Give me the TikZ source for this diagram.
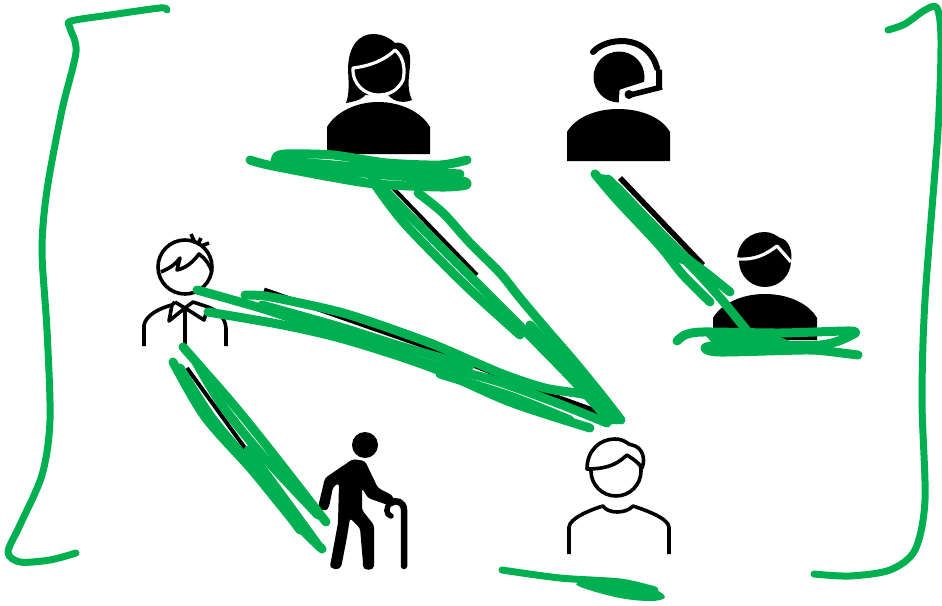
\documentclass[tikz,border=0pt]{standalone}
\usepackage{xcolor}
\definecolor{scribgreen}{HTML}{00B050}
\begin{document}
\begin{tikzpicture}[
x=1pt, y=-1pt,
scrib/.style={draw=scribgreen, line width=9pt, line cap=round, line join=round},
bracket/.style={draw=scribgreen, line width=7pt, line cap=round, line join=round},
solid ic/.style={fill=black, draw=none},
line ic/.style={draw=black, line width=3.6pt, line join=round},
cut/.style={draw=white, line width=3.2pt, line join=round}
]
\useasboundingbox (0,0) rectangle (942,605);
% woman
\fill[solid ic] (346,103) .. controls (349,95) and (349,85) .. (348,70) .. controls (348,45) and (360,34) .. (373,34) .. controls (382,34) and (390,38) .. (395,43) .. controls (402,41) and (410,47) .. (410,58) .. controls (411,72) and (405,85) .. (412,100) .. controls (405,103) and (395,103) .. (388,95) -- (365,95) .. controls (362,100) and (352,102) .. (346,103) -- cycle;
\fill[solid ic] (327,154) -- (327,127) .. controls (335,113) and (355,102) .. (378,102) .. controls (402,102) and (422,113) .. (430,127) -- (430,154) -- cycle;
\draw[cut] (353,68) .. controls (370,66) and (385,60) .. (395,50) .. controls (405,58) and (405,72) .. (403,80) .. controls (398,90) and (390,95) .. (378,95) .. controls (366,95) and (352,85) .. (353,68) -- cycle;
% headset
\fill[solid ic] (619,77) circle (25.5);
\fill[white] (621,90) -- (650,82) -- (650,105) -- (621,105) -- cycle;
\draw[cut] (620.5,104) -- (621,91) -- (649,82);
\draw[line width=6pt, line cap=round] (593,52) .. controls (605,38) and (647,32) .. (657,68);
\fill[solid ic] (656,68) -- (662,70) -- (662,87) -- (656,88) -- cycle;
\draw[line width=5.5pt] (662,87) -- (630,95);
\fill[solid ic] (629,94.5) circle (4.5);
\fill[solid ic] (567,161) -- (567,132) .. controls (575,118) and (595,109) .. (618,109) .. controls (642,109) and (662,118) .. (670,132) -- (670,161) -- cycle;
% man
\fill[solid ic] (765,261) circle (26);
\fill[solid ic] (737,259) .. controls (738,242) and (750,232) .. (765,232) .. controls (772,232) and (777,236) .. (780,238) .. controls (788,239) and (793,250) .. (791,262) -- cycle;
\draw[cut] (737,259) .. controls (755,260) and (765,255) .. (777,246) -- (791,262);
\fill[solid ic] (713,340) -- (713,318) .. controls (721,304) and (741,294) .. (765,294) .. controls (789,294) and (809,304) .. (817,318) -- (817,340) -- cycle;
% student
\draw[line ic] (185,267) circle (27);
\draw[line ic] (161,272) .. controls (170,268) and (176,264) .. (180,258) -- (177,270) .. controls (186,268) and (193,262) .. (199,254) .. controls (205,258) and (210,265) .. (212,272);
\draw[line ic] (191,234) -- (195,243) (201,238) -- (198,244) (209,243) -- (201,246);
\draw[line ic] (144,346) -- (144,325) .. controls (146,315) and (160,308) .. (172,305);
\draw[line ic] (208,307) .. controls (216,310) and (225,316) .. (226,328) -- (226,346);
\draw[line ic] (175,302) -- (185,308) -- (193,302) -- (208,307) -- (204,320) -- (185,308) -- (169,321) -- (172,305) -- (175,302);
\draw[line ic] (185,308) -- (185,346);
% walker
\fill[solid ic] (365,445) circle (13);
\fill[solid ic, rounded corners=3pt] (353,459) -- (365,461) -- (378,488) -- (392,495) -- (395,502) -- (388,505) -- (368,498) -- (362,488) -- (362,510) -- (374,525) -- (374,563) .. controls (374,571) and (363,571) .. (363,563) -- (360,528) -- (350,518) -- (347,537) -- (342,563) .. controls (340,571) and (329,570) .. (331,561) -- (338,523) -- (339,483) -- (333,487) -- (329,507) .. controls (326,511) and (318,510) .. (319,503) -- (325,478) -- cycle;
\draw[line width=6.5pt, line cap=round] (404,566) -- (404,510) .. controls (404,502) and (396,499) .. (391,503);
\draw[line width=5.5pt, line cap=round] (391,503) .. controls (385,507) and (386,515) .. (391,516);
% plain person
\draw[line ic] (616,471) circle (25);
\fill[white] (587,469) .. controls (587,450) and (600,439) .. (615,439) .. controls (625,439) and (628,445) .. (632,445) .. controls (642,447) and (646,458) .. (642,468) -- (627,455) -- (617,463) .. controls (610,468) and (600,469) .. (587,469) -- cycle;
\draw[line ic] (587,469) .. controls (587,450) and (600,439) .. (615,439) .. controls (625,439) and (628,445) .. (632,445) .. controls (642,447) and (646,458) .. (642,468) .. controls (638,462) and (633,459) .. (627,455) .. controls (620,461) and (612,469) .. (587,469) -- cycle;
\draw[line ic] (569,554) -- (569,527) .. controls (570,518) and (590,510) .. (603,506) .. controls (608,514) and (626,514) .. (633,506) .. controls (645,510) and (668,518) .. (669,527) -- (669,554);
% black lines under the ink
\draw[line width=4pt] (393,188) -- (477,275);
\draw[line width=5pt] (264,290) -- (430,348) -- (605,417);
\draw[line width=5.5pt] (620,178) -- (703,265);
\draw[line width=4pt] (187,368) -- (250,455);
\fill[solid ic] (553,393) -- (600,410) -- (607,419) -- (573,405) -- cycle;
% brackets
\draw[bracket] plot[smooth, tension=0.5] coordinates {(167,10) (160,8) (110,15) (71,21) (70,28) (76,52) (62,110) (47,190) (42,250) (47,330) (50,420) (42,475) (20,525) (8,552) (20,562) (50,560) (76,553)};
\draw[bracket] plot[smooth, tension=0.5] coordinates {(888,30) (905,24) (925,10) (937,8) (941,40) (938,130) (925,300) (922,400) (925,500) (915,550) (890,570) (850,576) (814,574)};
% under the woman
\draw[scrib] plot[smooth, tension=0.45] coordinates {(250,160) (273,166) (367,183) (440,187) (466,185) (457,180) (373,174) (290,163) (276,158) (285,154) (333,155) (387,163) (440,165) (467,160)};
\draw[scrib] plot[smooth, tension=0.45] coordinates {(275,160) (370,168) (460,174)};
% woman to plain person
\draw[scrib] plot[smooth, tension=0.5] coordinates {(372,177) (412,218) (472,278) (527,333) (573,380) (607,418)};
\draw[scrib] plot[smooth, tension=0.5] coordinates {(376,186) (405,224) (465,285) (520,335)};
\draw[scrib] plot[smooth, tension=0.5] coordinates {(418,193) (443,213) (470,243) (500,273) (520,298) (547,330) (573,360) (600,393) (621,420)};
\draw[scrib] plot[smooth, tension=0.5] coordinates {(530,325) (570,368) (612,420)};
% student to plain person
\draw[scrib] plot[smooth, tension=0.5] coordinates {(245,295) (265,296) (300,303) (350,315) (430,343) (500,373) (545,388) (593,397) (617,420)};
\draw[scrib] plot[smooth, tension=0.5] coordinates {(197,290) (267,310) (340,335) (423,362) (493,380) (557,403) (607,423)};
\draw[scrib] plot[smooth, tension=0.5] coordinates {(208,312) (283,325) (347,340) (430,367) (510,402) (590,428)};
\draw[scrib] plot[smooth, tension=0.5] coordinates {(262,305) (340,327) (400,346) (470,366)};
\draw[scrib] plot[smooth, tension=0.5] coordinates {(440,374) (510,396) (570,420)};
% student to walker
\draw[scrib] plot[smooth, tension=0.5] coordinates {(183,347) (232,403) (270,450) (326,522)};
\draw[scrib] plot[smooth, tension=0.5] coordinates {(196,362) (222,405) (262,455) (318,515)};
\draw[scrib] plot[smooth, tension=0.5] coordinates {(173,362) (205,417) (252,470) (293,520) (322,549)};
\draw[scrib] plot[smooth, tension=0.5] coordinates {(180,368) (212,418) (255,470) (300,530)};
\draw[scrib] plot[smooth, tension=0.5] coordinates {(248,450) (278,490) (318,545)};
% headset to man
\fill[scribgreen] (593,173) -- (607,175) -- (620,184) -- (650,216) -- (680,248) -- (698,268) -- (675,262) -- (657,242) -- (617,202) -- cycle;
\draw[scrib] plot[smooth, tension=0.5] coordinates {(595,174) (617,200) (660,246) (683,275) (710,302)};
\draw[scrib] plot[smooth, tension=0.5] coordinates {(608,179) (650,222) (683,255) (705,272) (730,292)};
\draw[scrib] plot[smooth, tension=0.5] coordinates {(660,235) (697,272) (722,300) (748,332)};
% under the man
\draw[scrib] plot[smooth, tension=0.45] coordinates {(677,341) (685,335) (703,332) (780,333) (850,331) (852,335) (820,345) (723,345) (705,348) (720,352) (803,350) (825,351) (858,355)};
\fill[scribgreen] (705,335) -- (780,337) -- (800,345) -- (720,351) -- cycle;
% under the plain person
\draw[bracket] plot[smooth, tension=0.5] coordinates {(502,570) (560,578) (620,582) (655,590)};
\fill[scribgreen] plot[smooth cycle, tension=0.6] coordinates {(576,584) (620,581) (650,587) (665,597) (650,601) (615,597)};
\end{tikzpicture}
\end{document}
